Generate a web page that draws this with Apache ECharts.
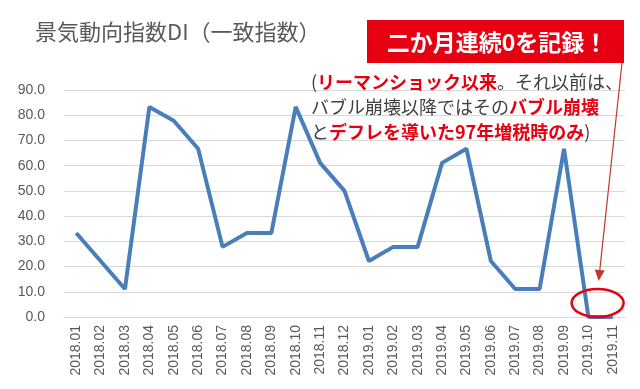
<!DOCTYPE html>
<html>
<head>
<meta charset="utf-8">
<script src="https://cdn.jsdelivr.net/npm/echarts@6/dist/echarts.min.js"></script>
<style>
html,body{margin:0;padding:0;background:#fff;}
#c{width:640px;height:389px;}
</style>
</head>
<body>
<div id="c"></div>
<script>
var categories = ['2018.01','2018.02','2018.03','2018.04','2018.05','2018.06','2018.07','2018.08','2018.09','2018.10','2018.11','2018.12','2019.01','2019.02','2019.03','2019.04','2019.05','2019.06','2019.07','2019.08','2019.09','2019.10','2019.11'];
var diValues = [33.3,22.2,11.1,83.3,77.8,66.7,27.8,33.3,33.3,83.3,61.1,50.0,22.2,27.8,27.8,61.1,66.7,22.2,11.1,11.1,66.7,0.0,0.0];
var titleText = '景気動向指数DI（一致指数）';
var calloutText = '二か月連続0を記録！';

var FONT = '"Noto Sans CJK JP", "Noto Sans", sans-serif';
var LATIN = '"Liberation Sans", Arial, sans-serif';
var chart = echarts.init(document.getElementById('c'), null, {renderer: 'canvas'});

chart.setOption({
  animation: false,
  backgroundColor: '#ffffff',
  title: {
    text: titleText,
    left: 30, top: 16,
    textStyle: {color: '#595959', fontSize: 22, fontWeight: 'normal', fontFamily: FONT}
  },
  grid: {left: 64, right: 15, top: 90, bottom: 72},
  xAxis: {
    type: 'category',
    data: categories,
    boundaryGap: true,
    axisLine: {show: true, lineStyle: {color: '#d9d9d9'}},
    axisTick: {show: false},
    axisLabel: {rotate: 90, color: '#595959', fontSize: 14, margin: 8, interval: 0, fontFamily: LATIN}
  },
  yAxis: {
    type: 'value',
    min: 0, max: 90, interval: 10,
    axisLine: {show: false},
    axisTick: {show: false},
    splitLine: {lineStyle: {color: '#d9d9d9', width: 1}},
    axisLabel: {color: '#595959', fontSize: 14, margin: 19, formatter: function(v){return v.toFixed(1);}, fontFamily: LATIN}
  },
  series: [{
    type: 'line',
    data: diValues,
    showSymbol: false,
    symbol: 'none',
    lineStyle: {color: '#4a7ebb', width: 4},
    z: 3
  }]
});

// annotations anchored to the chart's data pixels
var p1 = chart.convertToPixel({xAxisIndex:0, yAxisIndex:0}, [21, 0]);
var p2 = chart.convertToPixel({xAxisIndex:0, yAxisIndex:0}, [22, 0]);
var cx = (p1[0] + p2[0]) / 2 - 3;
var cy = p1[1] - 14;
var tipX = cx + 1, tipY = cy - 22;
var startX = 622, startY = 63;
var ang = Math.atan2(tipY - startY, tipX - startX);
var ah = 11, aw = 5;
var bx = tipX - ah * Math.cos(ang), by = tipY - ah * Math.sin(ang);
var nx = -Math.sin(ang), ny = Math.cos(ang);

chart.setOption({
  graphic: [
    {
      type: 'rect', shape: {x: 367, y: 20, width: 257, height: 43},
      style: {fill: '#e60012'}, z: 10
    },
    {
      type: 'text', x: 497, y: 42,
      style: {text: calloutText, fill: '#ffffff', font: 'bold 23px ' + FONT, align: 'center', verticalAlign: 'middle'},
      z: 11
    },
    {
      type: 'text', x: 311, y: 70,
      style: {
        text: '{n|(}{r|リーマンショック以来}{n|。それ以前は、}\n{n|バブル崩壊以降ではその}{r|バブル崩壊}\n{n|と}{r|デフレを導いた97年増税時のみ}{n|)}',
        rich: {
          n: {fill: '#404040', fontSize: 18, fontFamily: FONT, lineHeight: 25},
          r: {fill: '#e60012', fontSize: 18, fontFamily: FONT, fontWeight: 'bold', lineHeight: 25}
        }
      },
      z: 11
    },
    {
      type: 'line', shape: {x1: startX, y1: startY, x2: bx, y2: by},
      style: {stroke: '#c0392b', lineWidth: 1.2}, z: 12
    },
    {
      type: 'polygon',
      shape: {points: [[tipX, tipY], [bx + nx * aw, by + ny * aw], [bx - nx * aw, by - ny * aw]]},
      style: {fill: '#c0392b'}, z: 12
    },
    {
      type: 'ellipse', shape: {cx: cx, cy: cy, rx: 26, ry: 14},
      style: {fill: 'none', stroke: '#e60012', lineWidth: 2.5}, z: 12
    }
  ]
});
</script>
</body>
</html>
